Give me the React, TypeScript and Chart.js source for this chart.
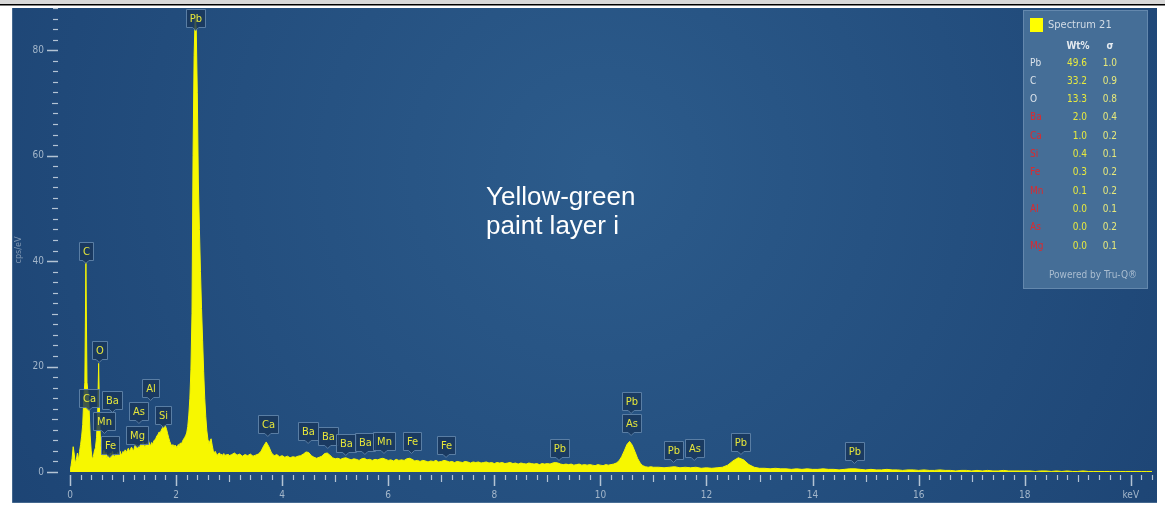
import React, { useEffect, useRef } from "react";
import { Chart, registerables } from "chart.js";

Chart.register(...registerables);

const CANVAS_W = 1165;
const CANVAS_H = 509;

// EDS spectrum in three channel blocks: first channel (keV), channel width (keV), intensity (cps/eV)
const lowStart = 0.0;
const lowStep = 0.02;
const lowCounts = [
  0, 1.2, 2.6, 4.8, 3.4, 1.6, 2.4, 3.6, 2.2, 3.9,
  5.2, 6.8, 9.0, 14.0, 17.0, 39.8, 17.0, 15.0, 12.0, 7.0,
  4.0, 2.4, 2.9, 4.0, 4.6, 6.5, 10.5, 20.6, 9.5, 5.0,
  3.6, 2.7, 4.1, 3.0, 3.7, 2.4, 3.3, 2.8, 3.6, 3.0,
  3.9, 3.2, 2.8, 3.5, 3.1, 3.7, 3.2, 4.0, 3.5, 3.3,
  3.9, 3.6, 4.2, 3.7, 4.1, 4.5, 3.9, 4.3, 4.7, 4.3,
  4.0, 4.9, 5.3, 4.6, 5.1, 4.4, 4.9, 5.4, 4.9, 5.7,
  5.0, 4.7, 5.5, 5.1, 5.9, 5.3, 5.0, 5.6, 5.2, 5.9,
  6.1, 6.4, 6.9, 7.1, 7.6, 7.4, 7.9, 8.3, 8.6, 8.9,
  8.7, 8.1, 7.3, 6.5, 5.8, 5.3, 4.9, 5.2, 4.8, 5.1,
  4.9, 4.6, 5.2, 5.0, 5.5, 5.3, 5.8, 6.2, 6.5, 6.9,
  7.4, 8.6, 10.8, 14.0, 19.5, 30.0, 60.0, 79.0, 86.5, 84.0,
  72.0, 55.0, 46.0, 38.0, 31.0, 25.0, 19.0, 14.0, 10.5, 7.8,
  6.2, 5.4, 5.9, 6.3, 5.1, 4.1, 3.7, 3.9, 3.4, 3.2,
  3.5, 3.6, 3.2, 3.4, 3.1, 3.5, 3.0, 3.3, 3.2, 3.4,
  3.1,
];

const midStart = 3.05;
const midStep = 0.05;
const midCounts = [
  3.3, 3.6, 3.2, 3.4, 3.0, 3.3, 3.1, 3.4, 3.0, 3.2,
  3.4, 3.9, 4.9, 5.7, 4.8, 3.6, 3.1, 3.3, 2.9, 3.1,
  2.8, 3.0, 2.7, 2.9, 2.8, 3.0, 3.1, 3.4, 3.8, 3.7,
  3.1, 2.8, 2.6, 2.8, 3.0, 3.5, 3.6, 3.2, 2.7, 2.5,
  2.6, 2.4, 2.6, 2.7, 2.5, 2.3, 2.5, 2.4, 2.2, 2.5,
  2.6, 2.3, 2.4, 2.2, 2.4, 2.3, 2.5, 2.6, 2.4, 2.2,
  2.3, 2.1, 2.4, 2.2, 2.3, 2.2, 2.5, 2.6, 2.4, 2.1,
  2.2, 2.0, 2.2, 2.1, 1.9, 2.1, 2.0, 2.2, 1.9, 2.0,
  2.2, 2.1, 1.9, 2.0, 1.8, 2.0, 1.9, 1.8, 2.0, 1.9,
  1.7, 1.9, 1.8, 1.9, 1.7, 1.8, 1.9, 1.7, 1.8, 1.6,
  1.8, 1.7, 1.8, 1.6, 1.7, 1.8, 1.6, 1.7, 1.5, 1.7,
  1.6, 1.5, 1.7, 1.6, 1.5, 1.6, 1.4, 1.6, 1.5, 1.6,
  1.5, 1.7, 1.8, 1.7, 1.5, 1.4, 1.5, 1.4, 1.5, 1.3,
  1.4, 1.5, 1.3, 1.4, 1.3, 1.4, 1.3, 1.2, 1.4, 1.3,
  1.2, 1.4, 1.3, 1.4, 1.5, 1.7, 2.1, 2.9, 4.0, 5.2,
  5.8, 5.1, 3.9, 2.6, 1.7, 1.2, 1.0, 0.9, 1.0, 0.9,
];

const highStart = 11.1;
const highStep = 0.1;
const highCounts = [
  0.9, 0.8, 0.9, 1.0, 0.8, 0.9, 0.8, 0.9, 0.7, 0.8,
  0.7, 0.8, 0.9, 1.3, 2.1, 2.7, 2.3, 1.4, 0.9, 0.7,
  0.7, 0.6, 0.7, 0.6, 0.6, 0.5, 0.6, 0.5, 0.6, 0.5,
  0.5, 0.6, 0.5, 0.5, 0.4, 0.5, 0.6, 0.6, 0.5, 0.4,
  0.5, 0.4, 0.4, 0.5, 0.4, 0.4, 0.3, 0.4, 0.4, 0.3,
  0.4, 0.3, 0.3, 0.4, 0.3, 0.3, 0.2, 0.3, 0.3, 0.2,
  0.3, 0.2, 0.3, 0.2, 0.2, 0.3, 0.2, 0.2, 0.2, 0.2,
  0.2, 0.1, 0.2, 0.2, 0.1, 0.2, 0.1, 0.2, 0.1, 0.1,
  0.2, 0.1, 0.1, 0.1, 0.1, 0.1, 0.1, 0.1, 0.1, 0.1,
  0.1, 0.1, 0.1, 0.1,
];

// Axes
const xMin = 0;
const xMax = 20.4;
const yMin = 0;
const yMax = 88;
const xTickValues = [0, 2, 4, 6, 8, 10, 12, 14, 16, 18, 20];
const xTickLabels = ["0", "2", "4", "6", "8", "10", "12", "14", "16", "18", "keV"];
const xMinorStep = 0.2;
const yTickValues = [0, 20, 40, 60, 80];
const yMinorStep = 2;
const yAxisTitle = "cps/eV";

// Element markers: name, line energy (keV), tag tip height (cps/eV)
const peakNames = ["Pb", "C", "O", "Ca", "Ba", "Fe", "Mn", "Al", "As", "Mg", "Si", "Ca", "Ba", "Ba", "Ba", "Ba", "Mn", "Fe", "Fe", "Pb", "Pb", "As", "Pb", "As", "Pb", "Pb"];
const peakEnergies = [2.37, 0.30, 0.55, 0.36, 0.80, 0.75, 0.65, 1.52, 1.30, 1.27, 1.76, 3.73, 4.49, 4.86, 5.20, 5.56, 5.92, 6.44, 7.09, 9.22, 10.58, 10.58, 11.38, 11.77, 12.65, 14.79];
const peakTips = [83.8, 39.6, 20.9, 11.8, 11.4, 2.8, 7.4, 13.6, 9.3, 4.7, 8.5, 6.8, 5.5, 4.5, 3.2, 3.4, 3.6, 3.6, 2.8, 2.3, 11.2, 7.0, 1.9, 2.3, 3.4, 1.7];

// Quantification table
const spectrumName = "Spectrum 21";
const quantElements = ["Pb", "C", "O", "Ba", "Ca", "Si", "Fe", "Mn", "Al", "As", "Mg"];
const quantWt = ["49.6", "33.2", "13.3", "2.0", "1.0", "0.4", "0.3", "0.1", "0.0", "0.0", "0.0"];
const quantSigma = ["1.0", "0.9", "0.8", "0.4", "0.2", "0.1", "0.2", "0.2", "0.1", "0.2", "0.1"];
const quantFooter = "Powered by Tru-Q®";

const sampleTitle = ["Yellow-green", "paint layer i"];

const NARROW = "'Liberation Sans Narrow', 'DejaVu Sans Condensed', 'Roboto', sans-serif";

function buildPoints() {
  const pts: { x: number; y: number }[] = [];
  lowCounts.forEach((v, i) => pts.push({ x: +(lowStart + i * lowStep).toFixed(3), y: v }));
  midCounts.forEach((v, i) => pts.push({ x: +(midStart + i * midStep).toFixed(3), y: v }));
  highCounts.forEach((v, i) => pts.push({ x: +(highStart + i * highStep).toFixed(3), y: v }));
  return pts;
}

const framePlugin = {
  id: "frame",
  beforeDraw(chart: any) {
    const ctx: CanvasRenderingContext2D = chart.ctx;
    ctx.save();
    ctx.fillStyle = "#ffffff";
    ctx.fillRect(0, 0, CANVAS_W, CANVAS_H);
    ctx.fillStyle = "#d8d8d8";
    ctx.fillRect(0, 0, CANVAS_W, 4);
    ctx.fillStyle = "#000000";
    ctx.fillRect(0, 4, CANVAS_W, 1.5);
    const g = ctx.createRadialGradient(600, 170, 10, 600, 170, 720);
    g.addColorStop(0, "#2c5b8b");
    g.addColorStop(1, "#1c4373");
    ctx.fillStyle = g;
    ctx.fillRect(12, 8, 1145, 495);
    ctx.fillStyle = "rgba(140,165,190,0.35)";
    ctx.fillRect(12, 8, 1, 495);
    ctx.fillRect(12, 502, 1145, 1);
    ctx.restore();
  },
};

function drawTag(ctx: CanvasRenderingContext2D, cx: number, tipY: number, text: string) {
  ctx.font = `11px ${NARROW}`;
  const w = Math.max(13, Math.round(ctx.measureText(text).width + 7));
  const h = 18;
  const notch = 3;
  const left = Math.round(cx - w / 2) + 0.5;
  const bottom = Math.round(tipY - notch) + 0.5;
  const top = bottom - h;
  ctx.beginPath();
  ctx.moveTo(left, top);
  ctx.lineTo(left + w, top);
  ctx.lineTo(left + w, bottom);
  ctx.lineTo(cx + 3, bottom);
  ctx.lineTo(cx, bottom + notch);
  ctx.lineTo(cx - 3, bottom);
  ctx.lineTo(left, bottom);
  ctx.closePath();
  ctx.fillStyle = "rgba(24,54,90,0.82)";
  ctx.fill();
  ctx.strokeStyle = "#5a7ea4";
  ctx.lineWidth = 1;
  ctx.stroke();
  ctx.fillStyle = "#e6e63a";
  ctx.textAlign = "center";
  ctx.textBaseline = "middle";
  ctx.fillText(text, left + w / 2, top + h / 2 + 0.5);
}

const overlayPlugin = {
  id: "overlay",
  afterDraw(chart: any) {
    const ctx: CanvasRenderingContext2D = chart.ctx;
    const xs = chart.scales.x;
    const ys = chart.scales.y;
    ctx.save();

    // y ticks
    ctx.strokeStyle = "#b4c4d4";
    for (let v = yMin; v <= yMax + 0.001; v += yMinorStep) {
      const y = Math.round(ys.getPixelForValue(v)) + 0.5;
      const major = v % 20 === 0;
      const mid = v % 10 === 0;
      ctx.lineWidth = major ? 1.5 : 1.2;
      ctx.beginPath();
      ctx.moveTo(major ? 47 : mid ? 52 : 53, y);
      ctx.lineTo(58, y);
      ctx.stroke();
    }
    ctx.fillStyle = "#a3b6ca";
    ctx.font = `10px ${NARROW}`;
    ctx.textAlign = "right";
    ctx.textBaseline = "middle";
    yTickValues.forEach((v) => ctx.fillText(String(v), 44, ys.getPixelForValue(v)));

    // x ticks
    const nMinor = Math.round((xMax - xMin) / xMinorStep);
    for (let i = 0; i <= nMinor; i++) {
      const e = xMin + i * xMinorStep;
      const x = Math.round(xs.getPixelForValue(e)) + 0.5;
      const isInt = i % 5 === 0;
      const isEven = i % 10 === 0;
      ctx.lineWidth = isEven ? 1.5 : 1.2;
      ctx.beginPath();
      ctx.moveTo(x, 475);
      ctx.lineTo(x, isEven ? 486 : isInt ? 482 : 480);
      ctx.stroke();
    }
    ctx.textAlign = "center";
    xTickValues.forEach((v, i) => ctx.fillText(xTickLabels[i], xs.getPixelForValue(v), 495));

    // y axis title
    ctx.save();
    ctx.translate(19, 250);
    ctx.rotate(-Math.PI / 2);
    ctx.fillStyle = "#7f97b2";
    ctx.font = `9px ${NARROW}`;
    ctx.textAlign = "center";
    ctx.fillText(yAxisTitle, 0, 0);
    ctx.restore();

    // element tags
    peakNames.forEach((name, i) => {
      drawTag(ctx, xs.getPixelForValue(peakEnergies[i]), ys.getPixelForValue(peakTips[i]), name);
    });

    // quantification box
    ctx.fillStyle = "#456e97";
    ctx.fillRect(1023, 10, 125, 279);
    ctx.strokeStyle = "#6488ad";
    ctx.lineWidth = 1;
    ctx.strokeRect(1023.5, 10.5, 124, 278);
    ctx.fillStyle = "#ffff00";
    ctx.fillRect(1030, 18, 13, 14);
    ctx.textBaseline = "middle";
    ctx.textAlign = "left";
    ctx.font = `11px ${NARROW}`;
    ctx.fillStyle = "#d2dce6";
    ctx.fillText(spectrumName, 1048, 25);
    ctx.font = `bold 10px ${NARROW}`;
    ctx.fillStyle = "#e3e9ef";
    ctx.textAlign = "center";
    ctx.fillText("Wt%", 1078, 46);
    ctx.fillText("σ", 1110, 46);
    ctx.font = `10px ${NARROW}`;
    quantElements.forEach((el, i) => {
      const y = 63 + i * 18.3;
      ctx.textAlign = "left";
      ctx.fillStyle = i < 3 ? "#dde4eb" : "#dc2a2e";
      ctx.fillText(el, 1030, y);
      ctx.textAlign = "right";
      ctx.fillStyle = "#e8ea3e";
      ctx.fillText(quantWt[i], 1087, y);
      ctx.fillStyle = "#e6e87c";
      ctx.fillText(quantSigma[i], 1117, y);
    });
    ctx.textAlign = "center";
    ctx.fillStyle = "#aabdd0";
    ctx.fillText(quantFooter, 1093, 275);

    // sample title
    ctx.fillStyle = "#ffffff";
    ctx.font = "26px 'Liberation Sans', Arial, sans-serif";
    ctx.textAlign = "left";
    ctx.textBaseline = "alphabetic";
    ctx.fillText(sampleTitle[0], 486, 205);
    ctx.fillText(sampleTitle[1], 486, 234);

    ctx.restore();
  },
};

export default function App() {
  const ref = useRef<HTMLCanvasElement>(null);
  useEffect(() => {
    const canvas = ref.current;
    if (!canvas) return;
    const chart = new Chart(canvas, {
      type: "line",
      data: {
        datasets: [
          {
            data: buildPoints(),
            borderColor: "#f7f700",
            backgroundColor: "#f7f700",
            borderWidth: 1,
            pointRadius: 0,
            fill: "origin",
            tension: 0,
          },
        ],
      },
      options: {
        animation: false,
        responsive: false,
        maintainAspectRatio: false,
        layout: { padding: { left: 70, right: 13, top: 8, bottom: 37 } },
        plugins: { legend: { display: false }, tooltip: { enabled: false } },
        scales: {
          x: { type: "linear", min: xMin, max: xMax, display: false },
          y: { type: "linear", min: yMin, max: yMax, display: false },
        },
      },
      plugins: [framePlugin, overlayPlugin],
    } as any);
    return () => chart.destroy();
  }, []);
  return (
    <div style={{ position: "absolute", left: 0, top: 0, width: CANVAS_W, height: CANVAS_H }}>
      <canvas ref={ref} width={CANVAS_W} height={CANVAS_H} style={{ display: "block", width: CANVAS_W, height: CANVAS_H }} />
    </div>
  );
}
